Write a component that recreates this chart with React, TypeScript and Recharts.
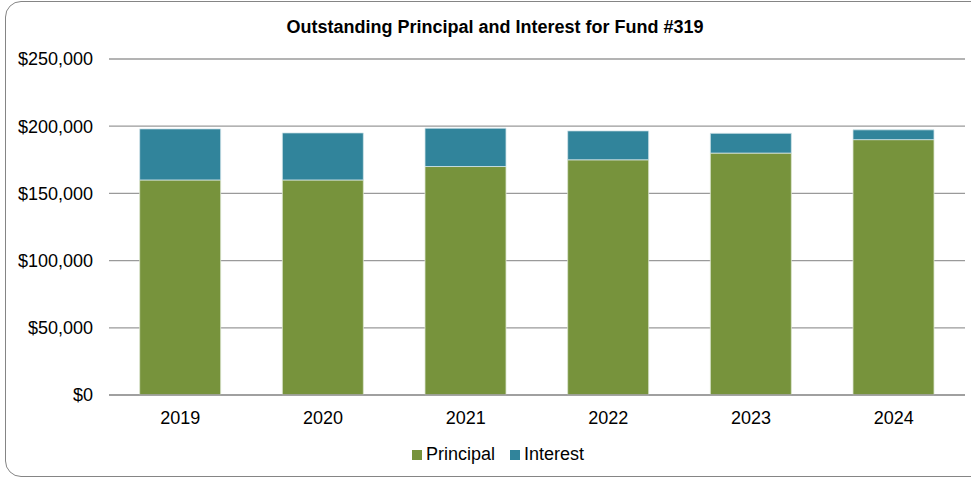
import { BarChart, Bar, XAxis, YAxis, CartesianGrid, Legend } from 'recharts';

const years = ['2019', '2020', '2021', '2022', '2023', '2024'];
const principal = [160000, 160000, 170000, 175000, 180000, 190000];
const interest = [38000, 35000, 28500, 21500, 14700, 7300];
const yTicks = [0, 50000, 100000, 150000, 200000, 250000];
const seriesOrder = ['Principal', 'Interest'];

const data = years.map((year, i) => ({
  year,
  Principal: principal[i],
  Interest: interest[i],
}));

const money = (v: number) => '$' + v.toLocaleString('en-US');

const App = () => {
  return (
    <div
      style={{
        position: 'absolute',
        left: 0,
        top: 0,
        width: 971,
        height: 479,
        overflow: 'hidden',
        background: '#fff',
        fontFamily: '"Liberation Sans", Arial, sans-serif',
      }}
    >
      <div
        style={{
          position: 'absolute',
          left: 5,
          top: 1,
          width: 1000,
          height: 474,
          border: '1.5px solid #858585',
          borderRadius: 16,
        }}
      />
      <div
        style={{
          position: 'absolute',
          top: 17,
          left: 0,
          width: 990,
          textAlign: 'center',
          fontWeight: 'bold',
          fontSize: 18,
          color: '#000',
        }}
      >
        Outstanding Principal and Interest for Fund #319
      </div>
      <BarChart
        width={971}
        height={479}
        data={data}
        margin={{ top: 59, right: 6, bottom: 0, left: 0 }}
        barCategoryGap='21.5%'
        style={{ position: 'absolute', left: 0, top: 0 }}
      >
        <CartesianGrid vertical={false} stroke='#9a9a9a' strokeWidth={1.3} />
        <XAxis
          dataKey='year'
          height={84}
          axisLine={{ stroke: '#9a9a9a', strokeWidth: 1.3 }}
          tickLine={false}
          tickMargin={10}
          tick={{ fill: '#000', fontSize: 18 }}
        />
        <YAxis
          width={109}
          domain={[0, 250000]}
          ticks={yTicks}
          tickFormatter={money}
          axisLine={false}
          tickLine={false}
          tickMargin={10}
          tick={{ fill: '#000', fontSize: 18 }}
        />
        <Legend
          layout='horizontal'
          verticalAlign='middle'
          align='center'
          iconType='square'
          iconSize={10}
          itemSorter={(item: any) => seriesOrder.indexOf(item.value)}
          wrapperStyle={{ top: 444, left: 20, width: 971, fontSize: 18 }}
          formatter={(value) => (
            <span style={{ color: '#000', paddingRight: 5 }}>{value}</span>
          )}
        />
        <Bar
          dataKey='Principal'
          stackId='a'
          fill='#77933C'
          stroke='#dde6d2'
          strokeWidth={0.8}
          isAnimationActive={false}
        />
        <Bar
          dataKey='Interest'
          stackId='a'
          fill='#31849B'
          stroke='#d3e4ea'
          strokeWidth={0.8}
          isAnimationActive={false}
        />
      </BarChart>
    </div>
  );
};

export default App;
